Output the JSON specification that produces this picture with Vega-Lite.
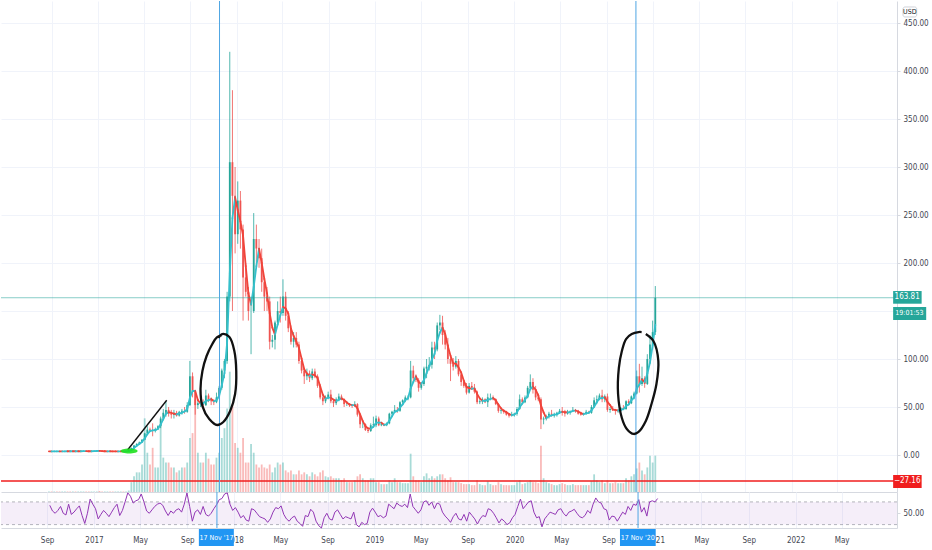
{
  "$schema": "https://vega.github.io/schema/vega-lite/v6.json",
  "padding": 0,
  "background": "#ffffff",
  "bounds": "flush",
  "spacing": 0,
  "config": {
    "view": {"stroke": null},
    "font": "Liberation Sans Narrow, DejaVu Sans Condensed, Roboto, sans-serif",
    "axis": {"labelFont": "Liberation Sans Narrow, DejaVu Sans Condensed, Roboto, sans-serif", "labelFontSize": 8, "labelColor": "#434651", "domainColor": "#d6d9e0", "tickColor": "#d6d9e0", "gridColor": "#f0f3fa", "gridWidth": 1, "title": null},
    "text": {"font": "Liberation Sans Narrow, DejaVu Sans Condensed, Roboto, sans-serif"}
  },
  "datasets": {
    "ltc": [
      {"d":"2016-08-25","o":3.75,"h":3.85,"l":3.70,"c":3.78,"v":1,"r":null},
      {"d":"2016-09-01","o":3.78,"h":3.85,"l":3.70,"c":3.74,"v":1,"r":null},
      {"d":"2016-09-08","o":3.74,"h":3.90,"l":3.70,"c":3.86,"v":1,"r":64},
      {"d":"2016-09-15","o":3.86,"h":3.92,"l":3.78,"c":3.83,"v":1,"r":54},
      {"d":"2016-09-22","o":3.83,"h":3.90,"l":3.75,"c":3.80,"v":1,"r":50},
      {"d":"2016-09-29","o":3.80,"h":3.88,"l":3.72,"c":3.85,"v":1,"r":55},
      {"d":"2016-10-06","o":3.85,"h":4.00,"l":3.80,"c":3.95,"v":1,"r":62},
      {"d":"2016-10-13","o":3.95,"h":4.00,"l":3.85,"c":3.88,"v":1,"r":50},
      {"d":"2016-10-20","o":3.88,"h":3.95,"l":3.80,"c":3.84,"v":1,"r":47},
      {"d":"2016-10-27","o":3.84,"h":4.05,"l":3.80,"c":4.00,"v":1,"r":66},
      {"d":"2016-11-03","o":4.00,"h":4.05,"l":3.80,"c":3.85,"v":1,"r":48},
      {"d":"2016-11-10","o":3.85,"h":3.95,"l":3.75,"c":3.90,"v":1,"r":52},
      {"d":"2016-11-17","o":3.90,"h":4.00,"l":3.80,"c":3.95,"v":1,"r":58},
      {"d":"2016-11-24","o":3.95,"h":4.10,"l":3.90,"c":4.05,"v":1,"r":63},
      {"d":"2016-12-01","o":4.05,"h":4.10,"l":3.85,"c":3.90,"v":1,"r":46},
      {"d":"2016-12-08","o":3.90,"h":4.00,"l":3.80,"c":3.85,"v":1,"r":32},
      {"d":"2016-12-15","o":3.85,"h":3.95,"l":3.80,"c":3.90,"v":1,"r":50},
      {"d":"2016-12-22","o":3.90,"h":4.30,"l":3.85,"c":4.20,"v":1,"r":75},
      {"d":"2016-12-29","o":4.20,"h":4.60,"l":4.15,"c":4.35,"v":1,"r":66},
      {"d":"2017-01-05","o":4.35,"h":4.80,"l":3.90,"c":4.05,"v":2,"r":58},
      {"d":"2017-01-12","o":4.05,"h":4.10,"l":3.70,"c":3.80,"v":1,"r":40},
      {"d":"2017-01-19","o":3.80,"h":3.95,"l":3.75,"c":3.90,"v":1,"r":48},
      {"d":"2017-01-26","o":3.90,"h":4.00,"l":3.85,"c":3.90,"v":1,"r":55},
      {"d":"2017-02-02","o":3.90,"h":4.00,"l":3.80,"c":3.85,"v":1,"r":50},
      {"d":"2017-02-09","o":3.85,"h":3.90,"l":3.70,"c":3.75,"v":1,"r":44},
      {"d":"2017-02-16","o":3.75,"h":3.85,"l":3.70,"c":3.78,"v":1,"r":52},
      {"d":"2017-02-23","o":3.78,"h":3.90,"l":3.70,"c":3.80,"v":1,"r":60},
      {"d":"2017-03-02","o":3.80,"h":4.00,"l":3.75,"c":3.95,"v":1,"r":66},
      {"d":"2017-03-09","o":3.95,"h":4.00,"l":3.70,"c":3.75,"v":1,"r":46},
      {"d":"2017-03-16","o":3.75,"h":3.95,"l":3.70,"c":3.90,"v":1,"r":55},
      {"d":"2017-03-23","o":3.90,"h":4.50,"l":3.80,"c":4.40,"v":3,"r":70},
      {"d":"2017-03-30","o":4.40,"h":7.80,"l":4.30,"c":7.10,"v":20,"r":86},
      {"d":"2017-04-06","o":7.10,"h":10.5,"l":7.00,"c":9.80,"v":32,"r":80},
      {"d":"2017-04-13","o":9.80,"h":12.2,"l":9.00,"c":11.6,"v":40,"r":68},
      {"d":"2017-04-20","o":11.6,"h":14.0,"l":11.0,"c":13.2,"v":40,"r":72},
      {"d":"2017-04-27","o":13.2,"h":16.5,"l":13.0,"c":15.8,"v":56,"r":74},
      {"d":"2017-05-04","o":15.8,"h":23.0,"l":15.5,"c":22.5,"v":150,"r":84},
      {"d":"2017-05-11","o":22.5,"h":30.0,"l":21.0,"c":26.5,"v":80,"r":70},
      {"d":"2017-05-18","o":26.5,"h":28.5,"l":24.0,"c":25.5,"v":56,"r":54},
      {"d":"2017-05-25","o":25.5,"h":33.0,"l":19.5,"c":25.0,"v":90,"r":50},
      {"d":"2017-06-01","o":25.0,"h":28.5,"l":23.5,"c":27.0,"v":50,"r":56},
      {"d":"2017-06-08","o":27.0,"h":31.0,"l":26.0,"c":30.0,"v":50,"r":62},
      {"d":"2017-06-15","o":30.0,"h":40.0,"l":28.0,"c":38.0,"v":138,"r":66},
      {"d":"2017-06-22","o":38.0,"h":48.0,"l":36.0,"c":44.0,"v":70,"r":68},
      {"d":"2017-06-29","o":44.0,"h":56.0,"l":40.0,"c":47.0,"v":60,"r":64},
      {"d":"2017-07-06","o":47,"h":50,"l":40,"c":43,"v":60,"r":54},
      {"d":"2017-07-13","o":43,"h":47,"l":38,"c":42,"v":50,"r":46},
      {"d":"2017-07-20","o":42,"h":47,"l":38,"c":44,"v":50,"r":54},
      {"d":"2017-07-27","o":44,"h":46,"l":40,"c":41,"v":40,"r":50},
      {"d":"2017-08-03","o":41,"h":46,"l":40,"c":45,"v":44,"r":56},
      {"d":"2017-08-10","o":45,"h":48,"l":42,"c":46,"v":50,"r":58},
      {"d":"2017-08-17","o":46,"h":50,"l":43,"c":45,"v":50,"r":52},
      {"d":"2017-08-24","o":45,"h":55,"l":44,"c":52,"v":60,"r":66},
      {"d":"2017-08-31","o":52,"h":98,"l":51,"c":82,"v":110,"r":86},
      {"d":"2017-09-07","o":82,"h":86,"l":60,"c":66,"v":120,"r":62},
      {"d":"2017-09-14","o":66,"h":68,"l":42,"c":52,"v":188,"r":36},
      {"d":"2017-09-21","o":52,"h":58,"l":48,"c":54,"v":80,"r":52},
      {"d":"2017-09-28","o":54,"h":58,"l":50,"c":55,"v":60,"r":56},
      {"d":"2017-10-05","o":55,"h":58,"l":50,"c":52,"v":60,"r":48},
      {"d":"2017-10-12","o":52,"h":68,"l":51,"c":62,"v":80,"r":62},
      {"d":"2017-10-19","o":62,"h":64,"l":55,"c":57,"v":68,"r":48},
      {"d":"2017-10-26","o":57,"h":60,"l":52,"c":56,"v":56,"r":45},
      {"d":"2017-11-02","o":56,"h":58,"l":52,"c":55,"v":56,"r":50},
      {"d":"2017-11-09","o":55,"h":65,"l":54,"c":60,"v":70,"r":58},
      {"d":"2017-11-16","o":60,"h":72,"l":58,"c":70,"v":80,"r":65},
      {"d":"2017-11-23","o":70,"h":90,"l":68,"c":88,"v":110,"r":74},
      {"d":"2017-11-30","o":88,"h":100,"l":80,"c":98,"v":130,"r":76},
      {"d":"2017-12-07","o":98,"h":170,"l":95,"c":165,"v":170,"r":84},
      {"d":"2017-12-14","o":165,"h":420,"l":160,"c":305,"v":245,"r":86},
      {"d":"2017-12-21","o":305,"h":380,"l":150,"c":270,"v":180,"r":66},
      {"d":"2017-12-28","o":270,"h":300,"l":210,"c":230,"v":100,"r":55},
      {"d":"2018-01-04","o":230,"h":285,"l":220,"c":265,"v":90,"r":60},
      {"d":"2018-01-11","o":265,"h":275,"l":215,"c":235,"v":80,"r":52},
      {"d":"2018-01-18","o":235,"h":240,"l":140,"c":185,"v":110,"r":42},
      {"d":"2018-01-25","o":185,"h":200,"l":165,"c":170,"v":60,"r":46},
      {"d":"2018-02-01","o":170,"h":175,"l":140,"c":150,"v":60,"r":38},
      {"d":"2018-02-08","o":150,"h":165,"l":105,"c":150,"v":98,"r":36},
      {"d":"2018-02-15","o":150,"h":252,"l":148,"c":225,"v":80,"r":58},
      {"d":"2018-02-22","o":225,"h":240,"l":195,"c":215,"v":56,"r":56},
      {"d":"2018-03-01","o":215,"h":225,"l":195,"c":205,"v":50,"r":50},
      {"d":"2018-03-08","o":205,"h":215,"l":170,"c":180,"v":56,"r":44},
      {"d":"2018-03-15","o":180,"h":185,"l":150,"c":165,"v":50,"r":42},
      {"d":"2018-03-22","o":165,"h":175,"l":150,"c":160,"v":48,"r":40},
      {"d":"2018-03-29","o":160,"h":165,"l":110,"c":118,"v":56,"r":34},
      {"d":"2018-04-05","o":118,"h":125,"l":112,"c":120,"v":40,"r":40},
      {"d":"2018-04-12","o":120,"h":140,"l":110,"c":138,"v":50,"r":52},
      {"d":"2018-04-19","o":138,"h":160,"l":135,"c":150,"v":60,"r":60},
      {"d":"2018-04-26","o":150,"h":165,"l":138,"c":148,"v":56,"r":58},
      {"d":"2018-05-03","o":148,"h":183,"l":145,"c":165,"v":60,"r":63},
      {"d":"2018-05-10","o":165,"h":170,"l":140,"c":145,"v":44,"r":48},
      {"d":"2018-05-17","o":145,"h":150,"l":128,"c":132,"v":40,"r":40},
      {"d":"2018-05-24","o":132,"h":135,"l":115,"c":118,"v":44,"r":36},
      {"d":"2018-05-31","o":118,"h":128,"l":112,"c":122,"v":36,"r":42},
      {"d":"2018-06-07","o":122,"h":128,"l":112,"c":115,"v":36,"r":45},
      {"d":"2018-06-14","o":115,"h":118,"l":95,"c":98,"v":44,"r":36},
      {"d":"2018-06-21","o":98,"h":102,"l":85,"c":88,"v":36,"r":32},
      {"d":"2018-06-28","o":88,"h":90,"l":74,"c":82,"v":40,"r":27},
      {"d":"2018-07-05","o":82,"h":90,"l":78,"c":85,"v":36,"r":46},
      {"d":"2018-07-12","o":85,"h":88,"l":76,"c":80,"v":32,"r":44},
      {"d":"2018-07-19","o":80,"h":90,"l":78,"c":87,"v":40,"r":57},
      {"d":"2018-07-26","o":87,"h":90,"l":80,"c":82,"v":36,"r":52},
      {"d":"2018-08-02","o":82,"h":84,"l":70,"c":72,"v":32,"r":36},
      {"d":"2018-08-09","o":72,"h":74,"l":58,"c":60,"v":40,"r":28},
      {"d":"2018-08-16","o":60,"h":62,"l":52,"c":56,"v":44,"r":24},
      {"d":"2018-08-23","o":56,"h":62,"l":54,"c":60,"v":32,"r":42},
      {"d":"2018-08-30","o":60,"h":66,"l":58,"c":63,"v":30,"r":50},
      {"d":"2018-09-06","o":63,"h":68,"l":54,"c":56,"v":32,"r":40},
      {"d":"2018-09-13","o":56,"h":58,"l":50,"c":54,"v":28,"r":38},
      {"d":"2018-09-20","o":54,"h":60,"l":52,"c":58,"v":28,"r":52},
      {"d":"2018-09-27","o":58,"h":64,"l":56,"c":61,"v":28,"r":56},
      {"d":"2018-10-04","o":61,"h":63,"l":57,"c":58,"v":24,"r":48},
      {"d":"2018-10-11","o":58,"h":59,"l":50,"c":53,"v":28,"r":40},
      {"d":"2018-10-18","o":53,"h":56,"l":51,"c":53,"v":20,"r":44},
      {"d":"2018-10-25","o":53,"h":54,"l":50,"c":52,"v":20,"r":42},
      {"d":"2018-11-01","o":52,"h":53,"l":49,"c":51,"v":20,"r":40},
      {"d":"2018-11-08","o":51,"h":56,"l":50,"c":53,"v":24,"r":52},
      {"d":"2018-11-15","o":53,"h":54,"l":40,"c":42,"v":32,"r":30},
      {"d":"2018-11-22","o":42,"h":43,"l":28,"c":32,"v":36,"r":26},
      {"d":"2018-11-29","o":32,"h":36,"l":28,"c":32,"v":28,"r":34},
      {"d":"2018-12-06","o":32,"h":33,"l":25,"c":26,"v":24,"r":30},
      {"d":"2018-12-13","o":26,"h":28,"l":23,"c":25,"v":24,"r":32},
      {"d":"2018-12-20","o":25,"h":33,"l":24,"c":31,"v":28,"r":52},
      {"d":"2018-12-27","o":31,"h":40,"l":29,"c":32,"v":28,"r":59},
      {"d":"2019-01-03","o":31,"h":41,"l":29,"c":38,"v":20,"r":52},
      {"d":"2019-01-10","o":38,"h":40,"l":30,"c":31,"v":20,"r":44},
      {"d":"2019-01-17","o":31,"h":34,"l":30,"c":32,"v":16,"r":46},
      {"d":"2019-01-24","o":32,"h":33,"l":30,"c":31,"v":16,"r":42},
      {"d":"2019-01-31","o":31,"h":34,"l":30,"c":33,"v":16,"r":45},
      {"d":"2019-02-07","o":33,"h":44,"l":32,"c":43,"v":24,"r":66},
      {"d":"2019-02-14","o":43,"h":46,"l":41,"c":45,"v":20,"r":62},
      {"d":"2019-02-21","o":45,"h":52,"l":44,"c":47,"v":28,"r":58},
      {"d":"2019-02-28","o":47,"h":50,"l":44,"c":46,"v":20,"r":68},
      {"d":"2019-03-07","o":46,"h":56,"l":45,"c":55,"v":20,"r":64},
      {"d":"2019-03-14","o":55,"h":58,"l":53,"c":57,"v":18,"r":62},
      {"d":"2019-03-21","o":57,"h":62,"l":55,"c":60,"v":18,"r":66},
      {"d":"2019-03-28","o":60,"h":62,"l":57,"c":60,"v":18,"r":60},
      {"d":"2019-04-04","o":60,"h":98,"l":59,"c":88,"v":78,"r":84},
      {"d":"2019-04-11","o":88,"h":93,"l":76,"c":80,"v":32,"r":62},
      {"d":"2019-04-18","o":80,"h":84,"l":76,"c":78,"v":24,"r":56},
      {"d":"2019-04-25","o":78,"h":80,"l":66,"c":70,"v":24,"r":50},
      {"d":"2019-05-02","o":70,"h":76,"l":68,"c":74,"v":20,"r":56},
      {"d":"2019-05-09","o":74,"h":92,"l":72,"c":90,"v":32,"r":70},
      {"d":"2019-05-16","o":90,"h":100,"l":80,"c":92,"v":38,"r":72},
      {"d":"2019-05-23","o":92,"h":102,"l":88,"c":94,"v":28,"r":64},
      {"d":"2019-05-30","o":94,"h":118,"l":90,"c":112,"v":32,"r":70},
      {"d":"2019-06-06","o":112,"h":118,"l":100,"c":110,"v":28,"r":58},
      {"d":"2019-06-13","o":110,"h":138,"l":108,"c":135,"v":32,"r":68},
      {"d":"2019-06-20","o":135,"h":146,"l":130,"c":138,"v":36,"r":66},
      {"d":"2019-06-27","o":138,"h":145,"l":115,"c":125,"v":36,"r":52},
      {"d":"2019-07-04","o":125,"h":130,"l":110,"c":115,"v":28,"r":45},
      {"d":"2019-07-11","o":115,"h":122,"l":95,"c":100,"v":24,"r":40},
      {"d":"2019-07-18","o":100,"h":105,"l":77,"c":95,"v":30,"r":34},
      {"d":"2019-07-25","o":95,"h":101,"l":88,"c":92,"v":20,"r":44},
      {"d":"2019-08-01","o":92,"h":103,"l":90,"c":98,"v":20,"r":50},
      {"d":"2019-08-08","o":98,"h":100,"l":82,"c":84,"v":20,"r":40},
      {"d":"2019-08-15","o":84,"h":86,"l":72,"c":76,"v":18,"r":38},
      {"d":"2019-08-22","o":76,"h":78,"l":70,"c":72,"v":16,"r":48},
      {"d":"2019-08-29","o":72,"h":75,"l":63,"c":65,"v":16,"r":36},
      {"d":"2019-09-05","o":65,"h":75,"l":64,"c":72,"v":16,"r":52},
      {"d":"2019-09-12","o":72,"h":76,"l":68,"c":70,"v":14,"r":46},
      {"d":"2019-09-19","o":70,"h":74,"l":64,"c":66,"v":14,"r":40},
      {"d":"2019-09-26","o":66,"h":67,"l":53,"c":55,"v":24,"r":31},
      {"d":"2019-10-03","o":55,"h":58,"l":53,"c":56,"v":16,"r":40},
      {"d":"2019-10-10","o":56,"h":60,"l":53,"c":58,"v":14,"r":46},
      {"d":"2019-10-17","o":58,"h":59,"l":54,"c":55,"v":14,"r":44},
      {"d":"2019-10-24","o":55,"h":64,"l":50,"c":60,"v":22,"r":58},
      {"d":"2019-10-31","o":60,"h":64,"l":57,"c":60,"v":16,"r":56},
      {"d":"2019-11-07","o":60,"h":62,"l":57,"c":58,"v":14,"r":50},
      {"d":"2019-11-14","o":58,"h":59,"l":52,"c":53,"v":14,"r":42},
      {"d":"2019-11-21","o":53,"h":54,"l":44,"c":46,"v":20,"r":33},
      {"d":"2019-11-28","o":46,"h":49,"l":43,"c":47,"v":16,"r":40},
      {"d":"2019-12-05","o":47,"h":48,"l":43,"c":45,"v":14,"r":36},
      {"d":"2019-12-12","o":45,"h":46,"l":41,"c":42,"v":14,"r":30},
      {"d":"2019-12-19","o":42,"h":43,"l":39,"c":41,"v":14,"r":33},
      {"d":"2019-12-26","o":41,"h":45,"l":40,"c":42,"v":14,"r":42},
      {"d":"2020-01-02","o":42,"h":44,"l":40,"c":43,"v":14,"r":48},
      {"d":"2020-01-09","o":43,"h":50,"l":41,"c":48,"v":20,"r":62},
      {"d":"2020-01-16","o":48,"h":63,"l":47,"c":58,"v":24,"r":75},
      {"d":"2020-01-23","o":58,"h":60,"l":53,"c":55,"v":16,"r":58},
      {"d":"2020-01-30","o":55,"h":62,"l":54,"c":60,"v":18,"r":64},
      {"d":"2020-02-06","o":60,"h":72,"l":59,"c":70,"v":20,"r":70},
      {"d":"2020-02-13","o":70,"h":84,"l":68,"c":76,"v":24,"r":72},
      {"d":"2020-02-20","o":76,"h":80,"l":64,"c":68,"v":20,"r":52},
      {"d":"2020-02-27","o":68,"h":72,"l":57,"c":60,"v":20,"r":42},
      {"d":"2020-03-05","o":60,"h":64,"l":56,"c":58,"v":18,"r":44},
      {"d":"2020-03-12","o":58,"h":60,"l":27,"c":37,"v":94,"r":26},
      {"d":"2020-03-19","o":37,"h":40,"l":32,"c":38,"v":28,"r":40},
      {"d":"2020-03-26","o":38,"h":42,"l":36,"c":40,"v":20,"r":46},
      {"d":"2020-04-02","o":40,"h":45,"l":38,"c":43,"v":18,"r":52},
      {"d":"2020-04-09","o":43,"h":47,"l":40,"c":41,"v":16,"r":50},
      {"d":"2020-04-16","o":41,"h":44,"l":39,"c":42,"v":14,"r":48},
      {"d":"2020-04-23","o":42,"h":45,"l":40,"c":44,"v":14,"r":56},
      {"d":"2020-04-30","o":44,"h":48,"l":43,"c":46,"v":16,"r":58},
      {"d":"2020-05-07","o":46,"h":50,"l":41,"c":45,"v":18,"r":50},
      {"d":"2020-05-14","o":45,"h":47,"l":40,"c":43,"v":16,"r":45},
      {"d":"2020-05-21","o":43,"h":47,"l":42,"c":45,"v":14,"r":52},
      {"d":"2020-05-28","o":45,"h":46,"l":42,"c":46,"v":14,"r":54},
      {"d":"2020-06-04","o":46,"h":50,"l":45,"c":47,"v":16,"r":57},
      {"d":"2020-06-11","o":47,"h":48,"l":44,"c":46,"v":14,"r":50},
      {"d":"2020-06-18","o":46,"h":47,"l":42,"c":43,"v":14,"r":44},
      {"d":"2020-06-25","o":43,"h":45,"l":41,"c":42,"v":14,"r":42},
      {"d":"2020-07-02","o":42,"h":44,"l":41,"c":43,"v":14,"r":46},
      {"d":"2020-07-09","o":43,"h":47,"l":42,"c":45,"v":14,"r":55},
      {"d":"2020-07-16","o":45,"h":46,"l":43,"c":44,"v":14,"r":50},
      {"d":"2020-07-23","o":44,"h":52,"l":43,"c":50,"v":22,"r":66},
      {"d":"2020-07-30","o":50,"h":60,"l":49,"c":57,"v":36,"r":77},
      {"d":"2020-08-06","o":57,"h":62,"l":53,"c":58,"v":24,"r":70},
      {"d":"2020-08-13","o":58,"h":64,"l":57,"c":62,"v":20,"r":68},
      {"d":"2020-08-20","o":62,"h":68,"l":55,"c":58,"v":24,"r":58},
      {"d":"2020-08-27","o":58,"h":63,"l":55,"c":61,"v":18,"r":56},
      {"d":"2020-09-03","o":61,"h":64,"l":45,"c":47,"v":24,"r":38},
      {"d":"2020-09-10","o":47,"h":50,"l":44,"c":48,"v":18,"r":45},
      {"d":"2020-09-17","o":48,"h":51,"l":46,"c":47,"v":18,"r":44},
      {"d":"2020-09-24","o":47,"h":48,"l":42,"c":46,"v":20,"r":36},
      {"d":"2020-10-01","o":46,"h":48,"l":44,"c":46,"v":18,"r":44},
      {"d":"2020-10-08","o":46,"h":50,"l":45,"c":49,"v":18,"r":52},
      {"d":"2020-10-15","o":49,"h":52,"l":47,"c":48,"v":18,"r":48},
      {"d":"2020-10-22","o":48,"h":57,"l":47,"c":56,"v":28,"r":62},
      {"d":"2020-10-29","o":56,"h":58,"l":52,"c":54,"v":24,"r":55},
      {"d":"2020-11-05","o":54,"h":62,"l":53,"c":61,"v":32,"r":66},
      {"d":"2020-11-12","o":61,"h":66,"l":58,"c":64,"v":36,"r":64},
      {"d":"2020-11-19","o":64,"h":88,"l":63,"c":82,"v":48,"r":74},
      {"d":"2020-11-26","o":82,"h":95,"l":65,"c":74,"v":60,"r":52},
      {"d":"2020-12-03","o":74,"h":92,"l":72,"c":80,"v":44,"r":60},
      {"d":"2020-12-10","o":80,"h":82,"l":70,"c":74,"v":36,"r":45},
      {"d":"2020-12-17","o":74,"h":105,"l":73,"c":100,"v":50,"r":70},
      {"d":"2020-12-24","o":100,"h":125,"l":95,"c":115,"v":74,"r":72},
      {"d":"2020-12-31","o":115,"h":140,"l":110,"c":128,"v":60,"r":70},
      {"d":"2021-01-07","o":128,"h":176,"l":125,"c":163.81,"v":74,"r":76}
    ],
    "vlines": [{"t":"2017-11-17"},{"t":"2020-11-17"}],
    "trend": [{"t":"2017-03-20","p":5.2},{"t":"2017-07-01","p":57}],
    "loops": [
      {"g":1,"i":0,"t":"2017-11-14","p":121.9},
      {"g":1,"i":1,"t":"2017-11-24","p":126},
      {"g":1,"i":2,"t":"2017-12-13","p":122.9},
      {"g":1,"i":3,"t":"2017-12-26","p":108.3},
      {"g":1,"i":4,"t":"2017-12-31","p":87.5},
      {"g":1,"i":5,"t":"2017-12-28","p":63.5},
      {"g":1,"i":6,"t":"2017-12-15","p":45.8},
      {"g":1,"i":7,"t":"2017-11-27","p":34.4},
      {"g":1,"i":8,"t":"2017-11-11","p":31.25},
      {"g":1,"i":9,"t":"2017-10-21","p":37.5},
      {"g":1,"i":10,"t":"2017-10-03","p":51},
      {"g":1,"i":11,"t":"2017-09-28","p":68.75},
      {"g":1,"i":12,"t":"2017-10-03","p":87.5},
      {"g":1,"i":13,"t":"2017-10-14","p":103.1},
      {"g":1,"i":14,"t":"2017-10-29","p":115.6},
      {"g":1,"i":15,"t":"2017-11-10","p":122.5},
      {"g":1,"i":16,"t":"2017-11-22","p":124.5},
      {"g":2,"i":0,"t":"2020-12-02","p":128.1},
      {"g":2,"i":1,"t":"2020-11-24","p":128.1},
      {"g":2,"i":2,"t":"2020-11-06","p":126},
      {"g":2,"i":3,"t":"2020-10-22","p":120.8},
      {"g":2,"i":4,"t":"2020-10-11","p":108.3},
      {"g":2,"i":5,"t":"2020-10-03","p":90.6},
      {"g":2,"i":6,"t":"2020-10-01","p":63.5},
      {"g":2,"i":7,"t":"2020-10-11","p":38.5},
      {"g":2,"i":8,"t":"2020-10-24","p":27.1},
      {"g":2,"i":9,"t":"2020-11-11","p":21.9},
      {"g":2,"i":10,"t":"2020-11-24","p":24},
      {"g":2,"i":11,"t":"2020-12-13","p":35.4},
      {"g":2,"i":12,"t":"2020-12-28","p":53.1},
      {"g":2,"i":13,"t":"2021-01-10","p":74},
      {"g":2,"i":14,"t":"2021-01-15","p":97.9},
      {"g":2,"i":15,"t":"2021-01-02","p":118.75},
      {"g":2,"i":16,"t":"2020-12-13","p":126}
    ],
    "rsiLevels": [{"lvl":70},{"lvl":30}]
  },
  "resolve": {"scale": {"x": "independent"}},
  "vconcat": [
    {
      "width": 896,
      "height": 491,
      "resolve": {"scale": {"y": "independent"}},
      "layer": [
        {
          "data": {"name": "ltc", "format": {"parse": {"d": "date"}}},
          "mark": {"type": "bar", "size": 1.8, "opacity": 0.4},
          "encoding": {
            "x": {"field": "d", "type": "temporal",
              "scale": {"domain": [{"year":2016,"month":5,"date":4},{"year":2022,"month":9,"date":22}]},
              "axis": {"values": [{"year":2016,"month":9,"date":1},{"year":2017,"month":1,"date":1},{"year":2017,"month":5,"date":1},{"year":2017,"month":9,"date":1},{"year":2018,"month":1,"date":1},{"year":2018,"month":5,"date":1},{"year":2018,"month":9,"date":1},{"year":2019,"month":1,"date":1},{"year":2019,"month":5,"date":1},{"year":2019,"month":9,"date":1},{"year":2020,"month":1,"date":1},{"year":2020,"month":5,"date":1},{"year":2020,"month":9,"date":1},{"year":2021,"month":1,"date":1},{"year":2021,"month":5,"date":1},{"year":2021,"month":9,"date":1},{"year":2022,"month":1,"date":1},{"year":2022,"month":5,"date":1}],
                "labels": false, "ticks": false, "grid": true, "domain": true, "title": null}},
            "y": {"field": "v", "type": "quantitative", "scale": {"domain": [0, 1000]}, "axis": null},
            "color": {"condition": {"test": "datum.c >= datum.o", "value": "#26a69a"}, "value": "#ef5350"}
          }
        },
        {
          "layer": [
            {
              "data": {"name": "ltc", "format": {"parse": {"d": "date"}}},
              "mark": {"type": "rule", "strokeWidth": 0.8},
              "encoding": {
                "x": {"field": "d", "type": "temporal"},
                "y": {"field": "l", "type": "quantitative",
                  "scale": {"domain": [-38.54, 472.92], "nice": false, "zero": false},
                  "axis": {"orient": "right", "values": [0,25,50,75,100,125,150,175,200,225,250,275,300,325,350,375,400,425,450], "labelExpr": "datum.value == 150 ? '' : format(datum.value, '.2f')", "grid": true, "tickSize": 3, "labelPadding": 3, "labelOverlap": false, "domain": true, "title": null}},
                "y2": {"field": "h"},
                "color": {"condition": {"test": "datum.c >= datum.o", "value": "#26a69a"}, "value": "#ef5350"}
              }
            },
            {
              "data": {"name": "ltc", "format": {"parse": {"d": "date"}}},
              "mark": {"type": "bar", "size": 1.8},
              "encoding": {
                "x": {"field": "d", "type": "temporal"},
                "y": {"field": "o", "type": "quantitative"},
                "y2": {"field": "c"},
                "color": {"condition": {"test": "datum.c >= datum.o", "value": "#26a69a"}, "value": "#ef5350"}
              }
            },
            {
              "data": {"name": "ltc", "format": {"parse": {"d": "date"}}},
              "transform": [
                {"window": [{"op": "mean", "field": "c", "as": "ma"}], "frame": [-2, 0], "sort": [{"field": "d", "order": "ascending"}]},
                {"window": [{"op": "lead", "field": "ma", "as": "ma2"}, {"op": "lead", "field": "d", "as": "d2"}], "frame": [null, null], "sort": [{"field": "d", "order": "ascending"}]},
                {"filter": "isValid(datum.ma2)"}
              ],
              "mark": {"type": "rule", "strokeWidth": 1.8, "strokeCap": "round"},
              "encoding": {
                "x": {"field": "d", "type": "temporal"},
                "x2": {"field": "d2"},
                "y": {"field": "ma", "type": "quantitative"},
                "y2": {"field": "ma2"},
                "color": {"condition": {"test": "datum.ma2 >= datum.ma", "value": "#35c0cc"}, "value": "#f0443a"}
              }
            },
            {
              "data": {"values": [{}]},
              "mark": {"type": "rule", "color": "#26a69a", "strokeWidth": 1, "opacity": 0.55},
              "encoding": {"y": {"datum": 163.81}}
            },
            {
              "data": {"values": [{}]},
              "mark": {"type": "rule", "color": "#f01e1e", "strokeWidth": 1.5},
              "encoding": {"y": {"datum": -27.16}}
            },
            {
              "data": {"name": "vlines", "format": {"parse": {"t": "date"}}},
              "mark": {"type": "rule", "color": "#4fa6e3", "strokeWidth": 1},
              "encoding": {"x": {"field": "t", "type": "temporal"}}
            },
            {
              "data": {"name": "trend", "format": {"parse": {"t": "date"}}},
              "mark": {"type": "line", "color": "#111111", "strokeWidth": 1.4},
              "encoding": {"x": {"field": "t", "type": "temporal"}, "y": {"field": "p", "type": "quantitative"}}
            },
            {
              "data": {"name": "loops", "format": {"parse": {"t": "date"}}},
              "mark": {"type": "line", "color": "#111111", "strokeWidth": 2.3, "interpolate": "catmull-rom"},
              "encoding": {
                "x": {"field": "t", "type": "temporal"},
                "y": {"field": "p", "type": "quantitative"},
                "detail": {"field": "g"},
                "order": {"field": "i", "type": "quantitative"}
              }
            },
            {
              "data": {"values": [{}]},
              "mark": {"type": "point", "shape": "M -1 0 A 1 0.3 0 1 1 1 0 A 1 0.3 0 1 1 -1 0 Z", "size": 289, "filled": true, "color": "#1fe01f", "opacity": 0.9},
              "encoding": {"x": {"datum": {"year": 2017, "month": 3, "date": 24}, "type": "temporal"}, "y": {"datum": 4.2}}
            },
            {
              "data": {"values": [{}]},
              "mark": {"type": "rect", "color": "#26a69a"},
              "encoding": {"x": {"datum": {"year": 2022, "month": 9, "date": 25}, "type": "temporal"}, "x2": {"datum": {"year": 2022, "month": 12, "date": 9}}, "y": {"datum": 170.8}, "y2": {"datum": 157.6}}
            },
            {
              "data": {"values": [{}]},
              "mark": {"type": "rect", "color": "#26a69a"},
              "encoding": {"x": {"datum": {"year": 2022, "month": 9, "date": 25}, "type": "temporal"}, "x2": {"datum": {"year": 2022, "month": 12, "date": 21}}, "y": {"datum": 154.2}, "y2": {"datum": 140.6}}
            },
            {
              "data": {"values": [{}]},
              "mark": {"type": "rect", "color": "#f01e1e"},
              "encoding": {"x": {"datum": {"year": 2022, "month": 9, "date": 25}, "type": "temporal"}, "x2": {"datum": {"year": 2022, "month": 12, "date": 9}}, "y": {"datum": -20.8}, "y2": {"datum": -34.4}}
            },
            {
              "data": {"values": [{}]},
              "mark": {"type": "rect", "fill": "#ffffff", "stroke": "#c3c6ce", "strokeWidth": 0.8, "cornerRadius": 2},
              "encoding": {"x": {"datum": {"year": 2022, "month": 10, "date": 21}, "type": "temporal"}, "x2": {"datum": {"year": 2022, "month": 11, "date": 26}}, "y": {"datum": 466.7}, "y2": {"datum": 456.3}}
            },
            {
              "data": {"values": [{}]},
              "mark": {"type": "text", "color": "#ffffff", "fontSize": 8, "align": "center", "baseline": "middle"},
              "encoding": {"x": {"datum": {"year": 2022, "month": 11, "date": 1}, "type": "temporal"}, "y": {"datum": 164.2}, "text": {"value": "163.81"}}
            },
            {
              "data": {"values": [{}]},
              "mark": {"type": "text", "color": "#ffffff", "fontSize": 7, "align": "center", "baseline": "middle"},
              "encoding": {"x": {"datum": {"year": 2022, "month": 11, "date": 7}, "type": "temporal"}, "y": {"datum": 147.4}, "text": {"value": "19:01:53"}}
            },
            {
              "data": {"values": [{}]},
              "mark": {"type": "text", "color": "#ffffff", "fontSize": 8, "align": "center", "baseline": "middle"},
              "encoding": {"x": {"datum": {"year": 2022, "month": 11, "date": 1}, "type": "temporal"}, "y": {"datum": -27.6}, "text": {"value": "−27.16"}}
            },
            {
              "data": {"values": [{}]},
              "mark": {"type": "text", "color": "#131722", "fontSize": 7, "align": "center", "baseline": "middle"},
              "encoding": {"x": {"datum": {"year": 2022, "month": 11, "date": 8}, "type": "temporal"}, "y": {"datum": 461.5}, "text": {"value": "USD"}}
            }
          ]
        }
      ]
    },
    {
      "width": 896,
      "height": 36,
      "layer": [
        {
          "data": {"values": [{}]},
          "mark": {"type": "rect", "color": "#9c5cc8", "opacity": 0.1},
          "encoding": {
            "y": {"datum": 70, "type": "quantitative", "scale": {"domain": [24, 87.5], "nice": false, "zero": false},
              "axis": {"orient": "right", "values": [50], "format": ".2f", "grid": false, "tickSize": 3, "labelPadding": 3, "domain": true, "title": null}},
            "y2": {"datum": 30}
          }
        },
        {
          "data": {"name": "rsiLevels"},
          "mark": {"type": "rule", "color": "#787b86", "strokeWidth": 1, "strokeDash": [3, 3], "opacity": 0.55},
          "encoding": {"y": {"field": "lvl", "type": "quantitative"}}
        },
        {
          "data": {"name": "ltc", "format": {"parse": {"d": "date"}}},
          "mark": {"type": "line", "color": "#9237b5", "strokeWidth": 1},
          "encoding": {
            "x": {"field": "d", "type": "temporal",
              "scale": {"domain": [{"year":2016,"month":5,"date":4},{"year":2022,"month":9,"date":22}]},
              "axis": {"values": [{"year":2016,"month":9,"date":1},{"year":2017,"month":1,"date":1},{"year":2017,"month":5,"date":1},{"year":2017,"month":9,"date":1},{"year":2018,"month":1,"date":1},{"year":2018,"month":5,"date":1},{"year":2018,"month":9,"date":1},{"year":2019,"month":1,"date":1},{"year":2019,"month":5,"date":1},{"year":2019,"month":9,"date":1},{"year":2020,"month":1,"date":1},{"year":2020,"month":5,"date":1},{"year":2020,"month":9,"date":1},{"year":2021,"month":1,"date":1},{"year":2021,"month":5,"date":1},{"year":2021,"month":9,"date":1},{"year":2022,"month":1,"date":1},{"year":2022,"month":5,"date":1}],
                "labelExpr": "month(datum.value) == 0 ? timeFormat(datum.value, '%Y') : timeFormat(datum.value, '%b')",
                "ticks": false, "labelPadding": 8, "grid": true, "domain": true, "labelFlush": false, "labelOverlap": false, "title": null}},
            "y": {"field": "r", "type": "quantitative"}
          }
        },
        {
          "data": {"name": "vlines", "format": {"parse": {"t": "date"}}},
          "mark": {"type": "rule", "color": "#4fa6e3", "strokeWidth": 1},
          "encoding": {"x": {"field": "t", "type": "temporal"}}
        },
        {
          "data": {"values": [{}]},
          "mark": {"type": "rect", "color": "#2196f3"},
          "encoding": {"x": {"datum": {"year": 2017, "month": 10, "date": 1}, "type": "temporal"}, "x2": {"datum": {"year": 2017, "month": 12, "date": 31}}, "y": {"datum": 22.24}, "y2": {"datum": -7.75}}
        },
        {
          "data": {"values": [{}]},
          "mark": {"type": "rect", "color": "#2196f3"},
          "encoding": {"x": {"datum": {"year": 2020, "month": 10, "date": 1}, "type": "temporal"}, "x2": {"datum": {"year": 2021, "month": 1, "date": 2}}, "y": {"datum": 22.24}, "y2": {"datum": -7.75}}
        },
        {
          "data": {"values": [{}]},
          "mark": {"type": "text", "color": "#ffffff", "fontSize": 7, "align": "center", "baseline": "middle"},
          "encoding": {"x": {"datum": {"year": 2017, "month": 11, "date": 16}, "type": "temporal"}, "y": {"datum": 7.24}, "text": {"value": "17 Nov '17"}}
        },
        {
          "data": {"values": [{}]},
          "mark": {"type": "text", "color": "#ffffff", "fontSize": 7, "align": "center", "baseline": "middle"},
          "encoding": {"x": {"datum": {"year": 2020, "month": 11, "date": 16}, "type": "temporal"}, "y": {"datum": 7.24}, "text": {"value": "17 Nov '20"}}
        }
      ]
    }
  ]
}
